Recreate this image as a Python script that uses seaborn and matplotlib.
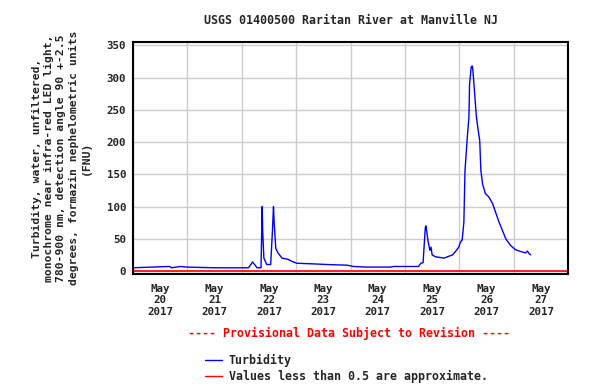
import pandas as pd
import matplotlib
matplotlib.use("Agg")
import matplotlib.pyplot as plt
import matplotlib.dates as mdates
from matplotlib.lines import Line2D
import seaborn as sns

TITLE = "USGS 01400500 Raritan River at Manville NJ"
YLABEL = ("Turbidity, water, unfiltered,\n"
          "monochrome near infra-red LED light,\n"
          "780-900 nm, detection angle 90 +-2.5\n"
          "degrees, formazin nephelometric units\n"
          "(FNU)")
NOTE = "---- Provisional Data Subject to Revision ----"

# readings (time, FNU)
times = [
    "2017-05-20 00:00", "2017-05-20 16:15", "2017-05-20 17:00", "2017-05-20 21:00",
    "2017-05-21 00:00", "2017-05-21 12:00", "2017-05-22 03:00", "2017-05-22 04:45",
    "2017-05-22 06:45", "2017-05-22 08:30", "2017-05-22 09:00", "2017-05-22 09:15",
    "2017-05-22 09:45", "2017-05-22 11:00", "2017-05-22 12:45", "2017-05-22 13:30",
    "2017-05-22 14:00", "2017-05-22 14:15", "2017-05-22 15:00", "2017-05-22 16:00",
    "2017-05-22 17:45", "2017-05-22 20:30", "2017-05-22 22:00", "2017-05-23 00:15",
    "2017-05-23 07:45", "2017-05-23 13:45", "2017-05-23 22:30", "2017-05-24 01:15",
    "2017-05-24 07:15", "2017-05-24 17:30", "2017-05-24 19:00", "2017-05-25 06:00",
    "2017-05-25 07:00", "2017-05-25 08:00", "2017-05-25 09:00", "2017-05-25 09:15",
    "2017-05-25 09:45", "2017-05-25 10:15", "2017-05-25 11:00", "2017-05-25 11:30",
    "2017-05-25 12:00", "2017-05-25 13:30", "2017-05-25 17:15", "2017-05-25 18:45",
    "2017-05-25 21:00", "2017-05-25 22:15", "2017-05-25 23:45", "2017-05-26 00:30",
    "2017-05-26 01:15", "2017-05-26 02:00", "2017-05-26 02:30", "2017-05-26 03:30",
    "2017-05-26 04:15", "2017-05-26 04:30", "2017-05-26 05:15", "2017-05-26 05:45",
    "2017-05-26 06:00", "2017-05-26 06:45", "2017-05-26 07:30", "2017-05-26 08:15",
    "2017-05-26 09:00", "2017-05-26 09:30", "2017-05-26 10:15", "2017-05-26 11:30",
    "2017-05-26 13:00", "2017-05-26 14:45", "2017-05-26 16:00", "2017-05-26 17:30",
    "2017-05-26 19:00", "2017-05-26 20:30", "2017-05-26 22:30", "2017-05-27 00:45",
    "2017-05-27 03:15", "2017-05-27 05:15", "2017-05-27 06:00", "2017-05-27 06:45",
    "2017-05-27 07:30",
]
turbidity = [
    5, 7, 5, 7,
    6, 5, 5, 14,
    5, 5, 100, 60,
    20, 10, 10, 60,
    100, 78, 35, 28,
    20, 18, 15, 12,
    11, 10, 9, 7,
    6, 6, 7, 7,
    12, 13, 68, 70,
    58, 45, 32, 37,
    25, 22, 20, 22,
    25, 30, 37, 45,
    48, 76, 156, 207,
    240, 289, 317, 318,
    310, 276, 240, 220,
    202, 156, 135, 120,
    115, 104, 91, 76,
    63, 50, 40, 33,
    30, 28, 31, 27,
    25,
]
approx_limit = 0.5

x_start, x_end = "2017-05-20 00:00", "2017-05-28 00:00"
y_ticks = [0, 50, 100, 150, 200, 250, 300, 350]

sns.set_style("white")
plt.rcParams["font.family"] = ["DejaVu Sans Mono"]
plt.rcParams["font.weight"] = "bold"

df = pd.DataFrame({"time": pd.to_datetime(times), "fnu": turbidity})

fig = plt.figure(figsize=(6.12, 3.92), dpi=100)
ax = fig.add_axes([0.2173, 0.301, 0.711, 0.592])

ax.axhline(approx_limit, color="red", linewidth=1.2, zorder=2)
sns.lineplot(data=df, x="time", y="fnu", color="blue", linewidth=1, ax=ax, zorder=3)

ax.set_xlim(pd.Timestamp(x_start), pd.Timestamp(x_end))
ax.set_ylim(-4.7, 355.4)
ax.set_yticks(y_ticks)

ax.xaxis.set_major_locator(mdates.HourLocator(byhour=[12]))
ax.xaxis.set_major_formatter(mdates.DateFormatter("%b\n%d\n%Y"))
ax.xaxis.set_minor_locator(mdates.DayLocator())
ax.grid(False)
ax.grid(which="minor", axis="x", color="#cccccc", linewidth=1)
ax.grid(which="major", axis="y", color="#cccccc", linewidth=1)
ax.set_axisbelow(True)
ax.tick_params(axis="both", which="both", length=0, labelsize=7.8)
ax.tick_params(axis="x", pad=7)
ax.tick_params(axis="y", pad=5)
for lab in ax.get_xticklabels() + ax.get_yticklabels():
    lab.set_fontweight("bold")
for sp in ax.spines.values():
    sp.set_color("black")
    sp.set_linewidth(1.5)

ax.set_xlabel("")
ax.set_ylabel(YLABEL, fontsize=8.2, fontweight="bold", linespacing=1.3, labelpad=11)
ax.set_title(TITLE, fontsize=8.4, fontweight="bold", pad=13)

fig.text(0.571, 0.150, NOTE, color="red", fontsize=8.4, fontweight="bold",
         ha="center", va="center")

handles = [Line2D([], [], color="blue", linewidth=1),
           Line2D([], [], color="red", linewidth=1)]
fig.legend(handles, ["Turbidity", "Values less than 0.5 are approximate."],
           loc="upper left", bbox_to_anchor=(0.335, 0.098), frameon=False,
           handlelength=1.45, handletextpad=0.6,
           labelspacing=0.3, borderpad=0, borderaxespad=0,
           prop={"weight": "bold", "size": 8.4})

fig.savefig("out.png", dpi=100)
